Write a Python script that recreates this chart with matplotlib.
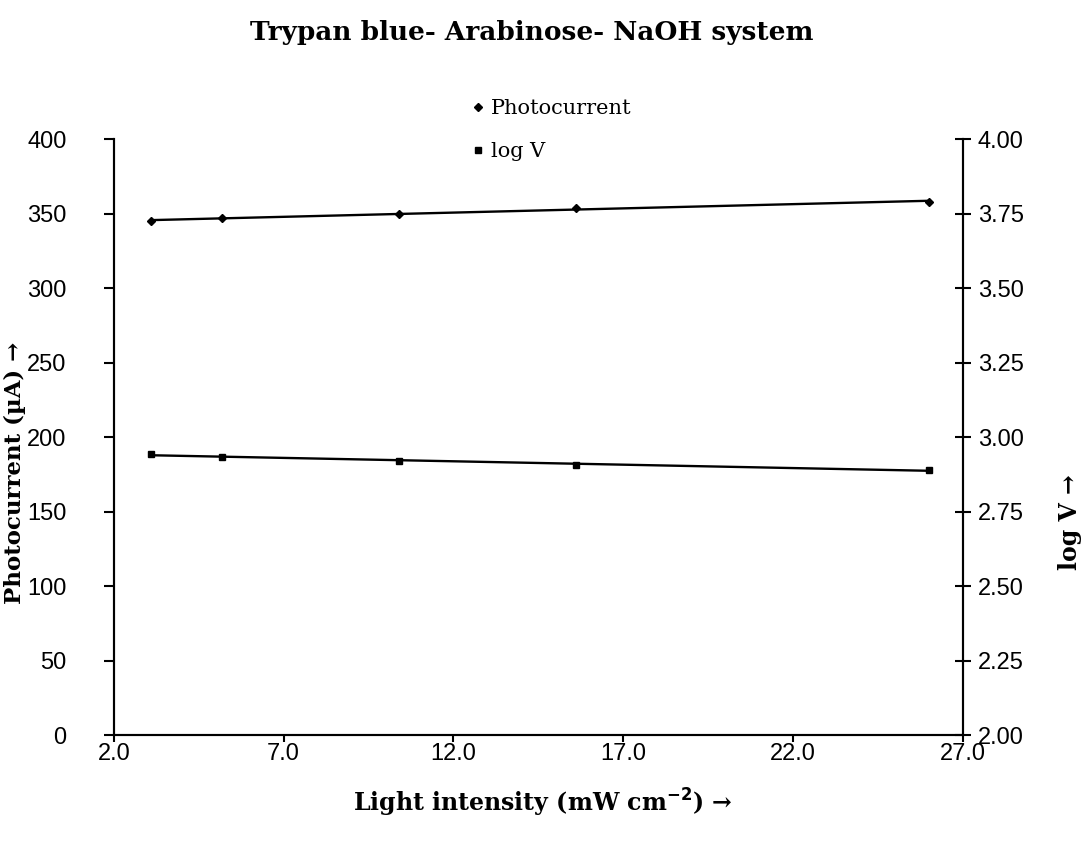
import numpy as np
import matplotlib
matplotlib.use("Agg")
import matplotlib.pyplot as plt
from matplotlib.lines import Line2D
from matplotlib.ticker import FormatStrFormatter, MultipleLocator, FixedLocator

plt.rcParams['font.family'] = ['DejaVu Serif']

light_intensity = [3.1, 5.2, 10.4, 15.6, 26.0]
photocurrent = [345, 347, 350, 354, 358]
log_v = [2.945, 2.932, 2.920, 2.908, 2.890]
x_ticks = [2.0, 7.0, 12.0, 17.0, 22.0, 27.0]

title = "Trypan blue- Arabinose- NaOH system"
xlabel = "Light intensity (mW cm$^{\\mathbf{-2}}$) \u2192"
ylabel_left = "Photocurrent (\u00b5A) \u2192"
ylabel_right = "log V \u2192"

tick_font = {'family': 'Liberation Sans', 'size': 17}

fig = plt.figure(figsize=(10.84, 8.44), dpi=100)
ax = fig.add_axes([0.105, 0.129, 0.783, 0.706])
ax2 = ax.twinx()

x = np.array(light_intensity)
# Photocurrent
ax.plot(x, photocurrent, linestyle='none', marker='D', markersize=3.8, color='black')
p = np.polyfit(x, photocurrent, 1)
xs = np.array([x.min(), x.max()])
ax.plot(xs, np.polyval(p, xs), color='black', linewidth=1.7)

# log V
ax2.plot(x, log_v, linestyle='none', marker='s', markersize=5, color='black')
q = np.polyfit(x, log_v, 1)
ax2.plot(xs, np.polyval(q, xs), color='black', linewidth=1.7)

ax.set_xlim(2.0, 27.0)
ax.set_ylim(0, 400)
ax2.set_ylim(2.0, 4.0)
ax.xaxis.set_major_locator(FixedLocator(x_ticks))
ax.xaxis.set_major_formatter(FormatStrFormatter('%.1f'))
ax.yaxis.set_major_locator(MultipleLocator(50))
ax2.yaxis.set_major_locator(MultipleLocator(0.25))
ax2.yaxis.set_major_formatter(FormatStrFormatter('%.2f'))

for a in (ax, ax2):
    a.spines['top'].set_visible(False)
    for s in ('left', 'right', 'bottom'):
        a.spines[s].set_linewidth(1.5)
        a.spines[s].set_color('black')

ax.tick_params(axis='y', direction='out', length=7, width=1.5, pad=27)
ax.tick_params(axis='x', direction='out', length=5, width=1.5, pad=1)
ax2.tick_params(axis='y', direction='inout', length=12, width=1.5, pad=5)
for lab in ax.get_xticklabels() + ax.get_yticklabels() + ax2.get_yticklabels():
    lab.set_fontfamily(tick_font['family'])
    lab.set_fontsize(tick_font['size'])

fig.text(0.501, 0.0486, xlabel, ha='center', va='center', fontsize=17, fontweight='bold')
fig.text(0.014, 0.44, ylabel_left, ha='center', va='center', rotation=90,
         fontsize=16.5, fontweight='bold')
fig.text(0.987, 0.381, ylabel_right, ha='center', va='center', rotation=90,
         fontsize=17, fontweight='bold')

fig.text(0.491, 0.962, title, ha='center', va='center', fontsize=19, fontweight='bold')

handles = [Line2D([], [], linestyle='none', marker='D', markersize=3.8, color='black'),
           Line2D([], [], linestyle='none', marker='s', markersize=5, color='black')]
fig.legend(handles, ['Photocurrent', 'log V'], loc='upper left',
           bbox_to_anchor=(0.418, 0.905), frameon=False, fontsize=15,
           handlelength=0.6, handletextpad=0.3, labelspacing=1.15)

fig.savefig('out.png', dpi=100)
